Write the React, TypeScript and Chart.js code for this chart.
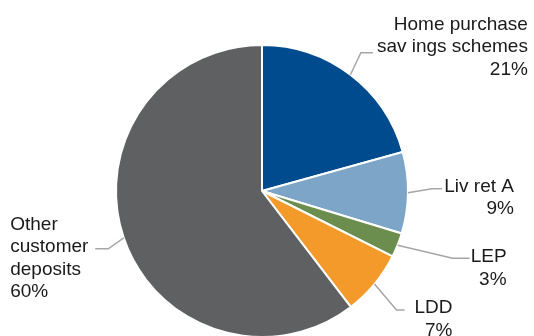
import React, { useEffect, useRef } from "react";
import { Chart, registerables } from "chart.js";

Chart.register(...registerables);

const categories = ["Home purchase savings schemes", "Livret A", "LEP", "LDD", "Other customer deposits"];
const values = [20.7, 9.0, 2.7, 7.2, 60.4];
const labelLines = [
  ["Home purchase", "sav ings schemes", "21%"],
  ["Liv ret A", "9%"],
  ["LEP", "3%"],
  ["LDD", "7%"],
  ["Other", "customer", "deposits", "60%"],
];
const colors = ["#004B8D", "#7CA5C8", "#6B8E4E", "#F39A2B", "#5F6062"];

// leader layout: elbow offset from slice edge, horizontal run, text offset from line end, alignment
const layout = [
  { ex: 10.5, ey: -22, run: 12, tx: 155, ty: -23, align: "right" },
  { ex: 24, ey: -4, run: 10, tx: 72, ty: 3, align: "right" },
  { ex: 55, ey: 13, run: 17, tx: 37, ty: 4, align: "right" },
  { ex: 22, ey: 26, run: 8, tx: 48, ty: 3, align: "right" },
  { ex: -15.5, ey: 11, run: -13, tx: -85, ty: -19, align: "left" },
];

const labelPlugin = {
  id: "leaderLabels",
  afterDatasetsDraw(chart: any) {
    const ctx = chart.ctx;
    const meta = chart.getDatasetMeta(0);
    ctx.save();
    meta.data.forEach((arc: any, i: number) => {
      const p = arc.getProps(["x", "y", "startAngle", "endAngle", "outerRadius"], true);
      const mid = (p.startAngle + p.endAngle) / 2;
      const sx = p.x + Math.cos(mid) * p.outerRadius;
      const sy = p.y + Math.sin(mid) * p.outerRadius;
      const L = layout[i];
      const exx = sx + L.ex;
      const eyy = sy + L.ey;
      const endx = exx + L.run;
      ctx.strokeStyle = "#A6A6A6";
      ctx.lineWidth = 1.5;
      ctx.beginPath();
      ctx.moveTo(sx, sy);
      ctx.lineTo(exx, eyy);
      ctx.lineTo(endx, eyy);
      ctx.stroke();
      ctx.fillStyle = "#1A1A1A";
      ctx.font = '19px "Liberation Sans", Arial, sans-serif';
      ctx.textAlign = L.align;
      ctx.textBaseline = "alphabetic";
      labelLines[i].forEach((t, k) => {
        ctx.fillText(t, endx + L.tx, eyy + L.ty + k * 22.5);
      });
    });
    ctx.restore();
  },
};

export default function App() {
  const ref = useRef<HTMLCanvasElement>(null);
  useEffect(() => {
    if (!ref.current) return;
    const chart = new Chart(ref.current, {
      type: "pie",
      data: {
        labels: categories,
        datasets: [
          {
            data: values,
            backgroundColor: colors,
            borderColor: "#FFFFFF",
            borderWidth: 2,
          },
        ],
      },
      options: {
        responsive: false,
        animation: false,
        layout: { padding: { left: 115, right: 125, top: 44, bottom: 7 } },
        plugins: { legend: { display: false }, tooltip: { enabled: false } },
      },
      plugins: [labelPlugin],
    });
    return () => chart.destroy();
  }, []);
  return (
    <div style={{ position: "fixed", left: 0, top: 0, width: 534, height: 336, overflow: "hidden", background: "#fff" }}>
      <canvas ref={ref} width={534} height={345} style={{ display: "block" }} />
    </div>
  );
}
